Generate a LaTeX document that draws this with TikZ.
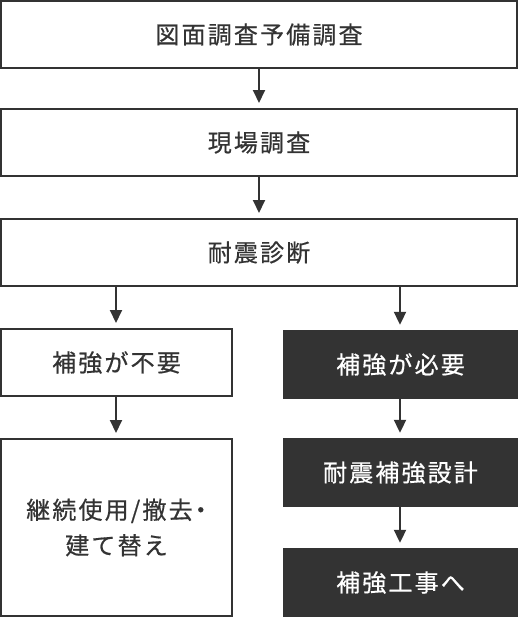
\documentclass[tikz,border=0pt]{standalone}
\usepackage{fontspec}
\newfontfamily\jpfont[LetterSpace=9, FakeBold=0.6]{Noto Sans CJK JP}
\usetikzlibrary{arrows.meta}
\definecolor{ink}{HTML}{333333}
\tikzset{
  every node/.style={font=\jpfont\fontsize{24}{35.5}\selectfont, inner sep=0pt, align=center},
  whitebox/.style={draw=ink, line width=2pt, fill=white, text=ink},
  darkbox/.style={draw=none, fill=ink, text=white},
  arr/.style={draw=ink, line width=2pt, -{Triangle[width=12pt,length=13pt]}, shorten >=5pt}
}
\begin{document}
\begin{tikzpicture}[x=1pt,y=1pt]
\useasboundingbox (0,0) rectangle (518,-618);
\node[whitebox, minimum width=516pt, minimum height=67pt] (b1) at (259,-34.5) {図面調査予備調査};
\node[whitebox, minimum width=516pt, minimum height=67pt] (b2) at (259,-142.5) {現場調査};
\node[whitebox, minimum width=516pt, minimum height=67pt] (b3) at (259,-252.5) {耐震診断};
\node[whitebox, minimum width=231pt, minimum height=67pt] (l1) at (116.5,-362.5) {補強が不要};
\node[whitebox, minimum width=231pt, minimum height=177pt] (l2) at (116.5,-527.5) {{\addfontfeatures{RawFeature=+palt}継続使用/撤去・}\\建て替え};
\node[darkbox, minimum width=235pt, minimum height=69pt] (r1) at (400.5,-364.5) {補強が必要};
\node[darkbox, minimum width=235pt, minimum height=69pt] (r2) at (400.5,-472.5) {耐震補強設計};
\node[darkbox, minimum width=235pt, minimum height=69pt] (r3) at (400.5,-582.5) {補強工事へ};
\draw[arr] (b1.south) -- (b2.north);
\draw[arr] (b2.south) -- (b3.north);
\coordinate (lc) at (116,-300);
\coordinate (rc) at (400,-300);
\draw[arr] (b3.south -| lc) -- (l1.north -| lc);
\draw[arr] (b3.south -| rc) -- (r1.north -| rc);
\draw[arr] (l1.south -| lc) -- (l2.north -| lc);
\draw[arr] (r1.south -| rc) -- (r2.north -| rc);
\draw[arr] (r2.south -| rc) -- (r3.north -| rc);
\end{tikzpicture}
\end{document}
